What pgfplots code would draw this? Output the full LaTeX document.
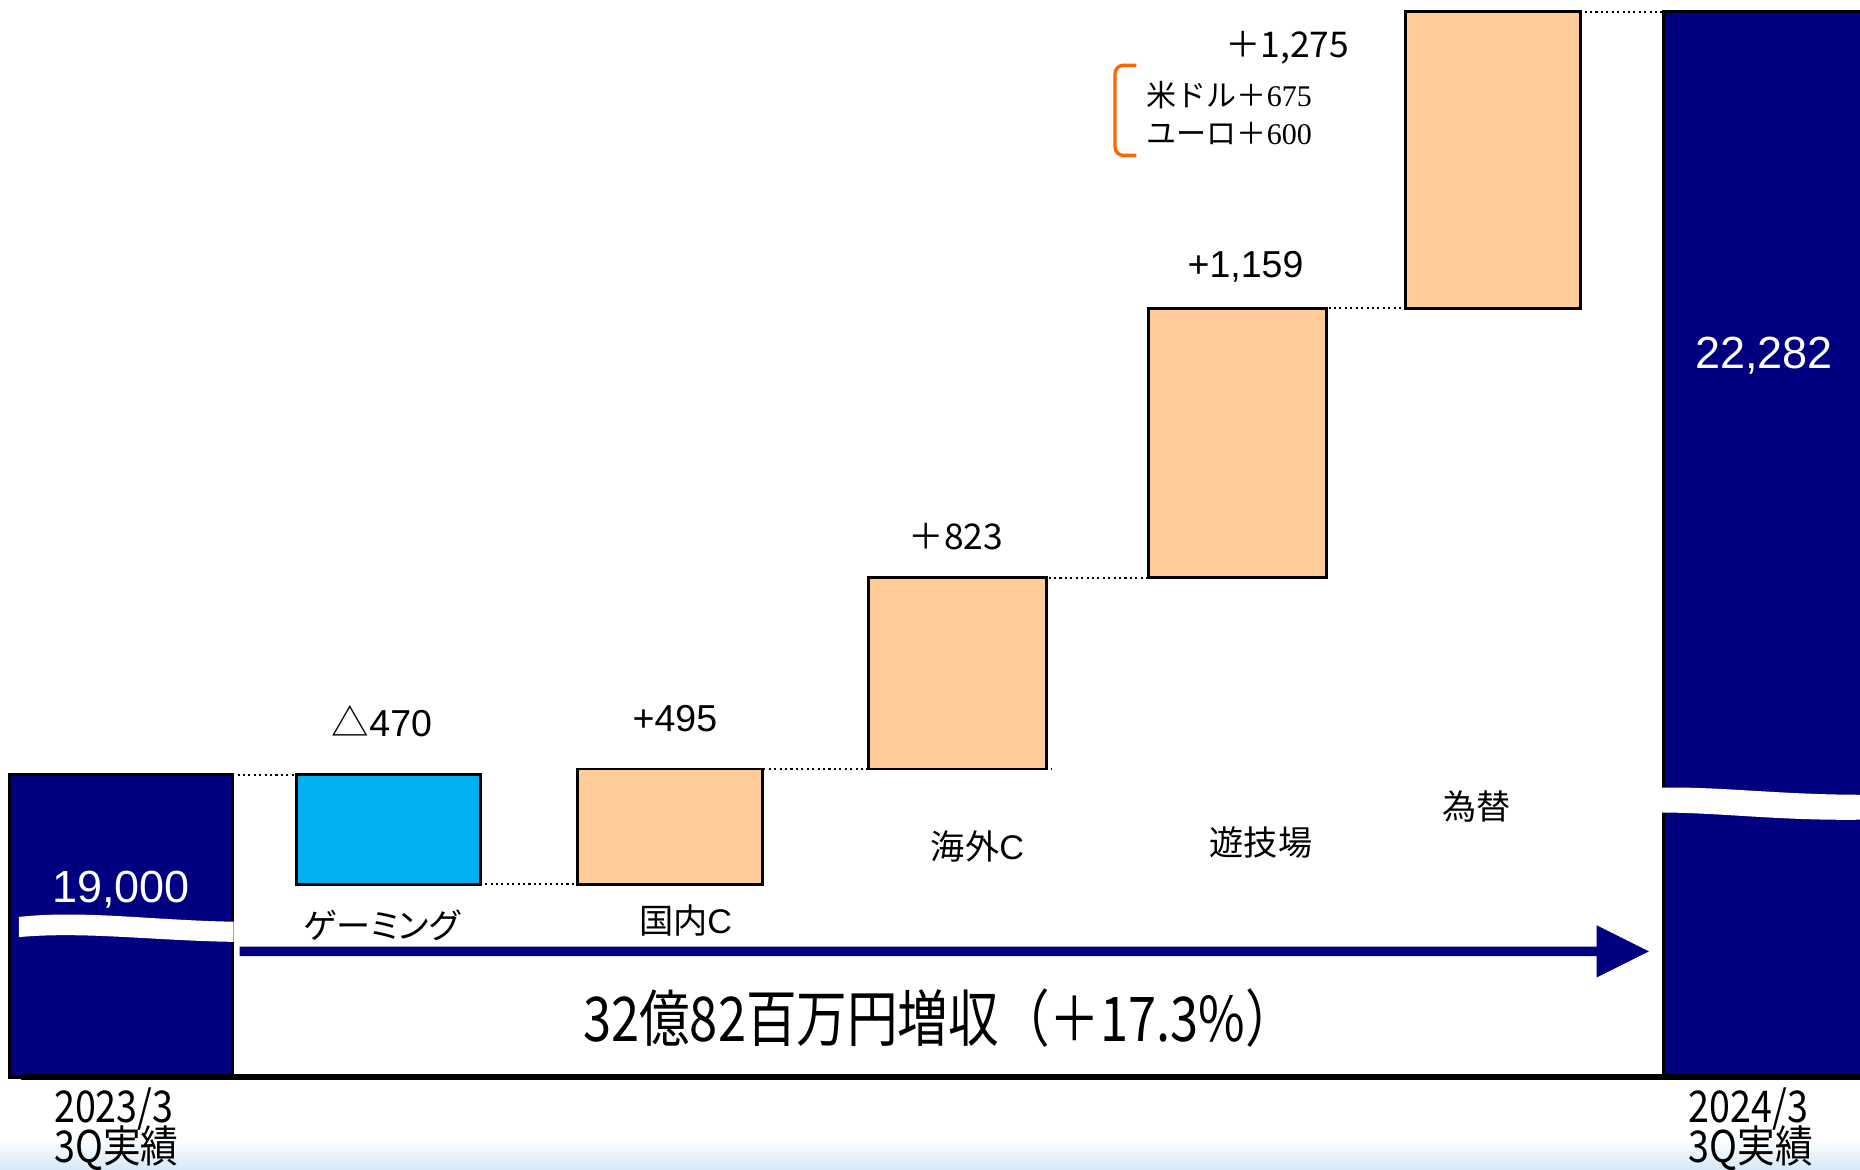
\documentclass[border=0pt]{standalone}
\usepackage{pgfplots}
\pgfplotsset{compat=1.18}
\usepackage{fontspec}
\setmainfont{Liberation Sans}
\newfontfamily\jp{Noto Sans CJK JP}
\newfontfamily\jpp{Noto Sans CJK JP}[RawFeature=+palt]
\newfontfamily\jpc{Noto Sans CJK JP}[FakeStretch=0.82]
\newfontfamily\jpy{Noto Sans CJK JP}[FakeStretch=0.86]
\newfontfamily\tms{Liberation Serif}

\definecolor{navybar}{RGB}{0,0,128}
\definecolor{cyanbar}{RGB}{0,176,240}
\definecolor{peach}{RGB}{255,204,153}
\definecolor{bracket}{RGB}{255,102,0}
\definecolor{paleblue}{RGB}{214,232,246}

\newcommand\fs[1]{\fontsize{#1}{#1}\selectfont}

\begin{document}
\begin{tikzpicture}
% page frame, in reference pixels (0.1mm each, y downwards)
\begin{scope}[x=0.1mm,y=-0.1mm,shift={(0,9.08cm)}]
\shade[top color=white,bottom color=paleblue] (0,960) rectangle (1568,986);
\end{scope}

\begin{axis}[
  at={(0,0)}, anchor=south west,
  scale only axis, width=15.68cm, height=9.08cm,
  xmin=0, xmax=1568, ymin=17700, ymax=22333,
  axis lines=none, clip=false,
  dotline/.style={black, line width=0.5pt, dash pattern=on 0.5pt off 0.8pt},
]
% start and end totals (broken bars)
\addplot[draw=black, fill=navybar, line width=0.7pt]
  coordinates {(8,17700) (196,17700) (196,19000) (8,19000)} -- cycle;
\addplot[draw=black, fill=navybar, line width=0.7pt]
  coordinates {(1402,17700) (1575,17700) (1575,22282) (1402,22282)} -- cycle;
% steps
\addplot[draw=black, fill=cyanbar, line width=0.7pt]
  coordinates {(250,18530) (405,18530) (405,19000) (250,19000)} -- cycle;
\addplot[draw=black, fill=peach, line width=0.7pt]
  coordinates {(487,18530) (643,18530) (643,19025) (487,19025)} -- cycle;
\addplot[draw=black, fill=peach, line width=0.7pt]
  coordinates {(732,19025) (882,19025) (882,19848) (732,19848)} -- cycle;
\addplot[draw=black, fill=peach, line width=0.7pt]
  coordinates {(968,19848) (1118,19848) (1118,21007) (968,21007)} -- cycle;
\addplot[draw=black, fill=peach, line width=0.7pt]
  coordinates {(1185,21007) (1332,21007) (1332,22282) (1185,22282)} -- cycle;
% connectors
\addplot[dotline] coordinates {(150,19000) (275,19000)};
\addplot[dotline] coordinates {(345,18530) (622,18530)};
\addplot[dotline] coordinates {(607,19025) (887,19025)};
\addplot[dotline] coordinates {(884,19848) (968,19848)};
\addplot[dotline] coordinates {(1120,21007) (1185,21007)};
\addplot[dotline] coordinates {(1313,22282) (1440,22282)};
\draw[line width=1.6pt] (axis cs:18,17700) -- (axis cs:1568,17700);
\end{axis}

\begin{scope}[x=0.1mm,y=-0.1mm,shift={(0,9.08cm)}]
% break marks
\fill[white] (16,773) .. controls (70,767) and (130,776) .. (197,777)
  -- (197,794) .. controls (130,793) and (70,785) .. (16,790) -- cycle;
\fill[white] (1401,664) .. controls (1450,663) and (1500,670) .. (1570,670)
  -- (1570,691) .. controls (1500,692) and (1450,685) .. (1401,685) -- cycle;
% growth arrow
\fill[navybar] (202,798) -- (1346,798) -- (1346,780) -- (1390,802)
  -- (1346,824) -- (1346,806) -- (202,806) -- cycle;
\draw[bracket, line width=0.8pt, rounded corners=2pt]
  (958,55) -- (940,55) -- (940,131) -- (958,131);

\tikzset{every node/.style={inner sep=0pt}}
\node[white, font=\fs{10.8}] at (102,750) {19,000};
\node[white, font=\fs{10.8}] at (1487,300) {22,282};

\node[font=\fs{9}] at (322,608) {{\jp △}470};
\node[font=\fs{9}] at (569,606) {+495};
\node[font=\fs{8.5}\jp] at (806,452) {＋823};
\node[font=\fs{9}] at (1050,225) {+1,159};
\node[font=\fs{8.5}\jp] at (1085,40) {＋1,275};
\node[font=\fs{7.2}, anchor=west] at (966,80) {{\jp 米ドル＋}{\tms 675}};
\node[font=\fs{7.2}, anchor=west] at (966,113) {{\jp ユーロ＋}{\tms 600}};

\node[font=\fs{8.2}\jpp] at (322,780) {ゲーミング};
\node[font=\fs{8.2}] at (578,776) {{\jpp 国内}C};
\node[font=\fs{8.2}] at (824,714) {{\jpp 海外}C};
\node[font=\fs{8.2}\jpp] at (1063,710) {遊技場};
\node[font=\fs{8.2}\jpp] at (1245,680) {為替};

\node[font=\fs{14.8}\jpc] at (792,858) {32億82百万円増収（＋17.3\%）};

\node[font=\fs{10.5}\jpy, anchor=west] at (45,935) {2023/3};
\node[font=\fs{10.5}\jpy, anchor=west] at (45,968) {3Q実績};
\node[font=\fs{10.5}\jpy, anchor=west] at (1423,935) {2024/3};
\node[font=\fs{10.5}\jpy, anchor=west] at (1423,968) {3Q実績};

% the page is exactly the reference frame
\pgfresetboundingbox
\path[use as bounding box] (0,0) rectangle (1568,986);
\end{scope}
\end{tikzpicture}
\end{document}
